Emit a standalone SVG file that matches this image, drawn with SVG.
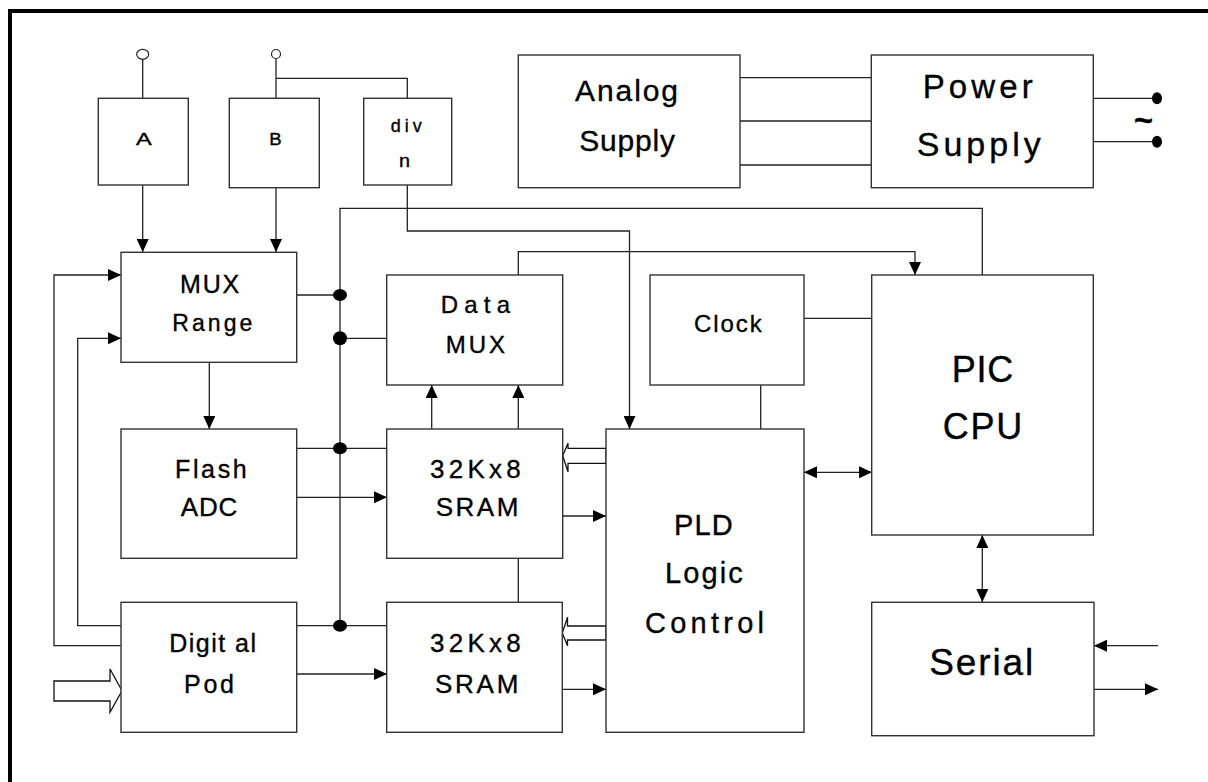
<svg xmlns="http://www.w3.org/2000/svg" width="1208" height="782" viewBox="0 0 1208 782">
<style>
.box{fill:#fff;stroke:#333;stroke-width:1.4}
.ln{fill:none;stroke:#222;stroke-width:1.3}
.arr{marker-end:url(#ah)}
.dbl{marker-start:url(#ah);marker-end:url(#ah)}
.dot{fill:#000}
.wide{fill:#fff;stroke:#111;stroke-width:1.3}
text{font-family:"Liberation Sans",Arial,sans-serif;fill:#000;stroke:#000;stroke-width:0.35}
</style>
<defs>
<marker id="ah" markerUnits="userSpaceOnUse" markerWidth="13" markerHeight="12" refX="13" refY="6" orient="auto-start-reverse" viewBox="0 0 13 12">
<path d="M0,0 L13,6 L0,12 z" fill="#000"/>
</marker>
</defs>
<rect width="1208" height="782" fill="#fff"/>
<rect x="8" y="9" width="1200" height="4" fill="#000"/>
<rect x="8" y="9" width="4" height="773" fill="#000"/>

<g id="connectors">
<ellipse cx="142.7" cy="54.3" rx="6" ry="5" fill="none" stroke="#222" stroke-width="1.2"/>
<circle cx="276" cy="54" r="4.5" fill="none" stroke="#222" stroke-width="1.2"/>
<line class="ln" x1="142.7" y1="59.3" x2="142.7" y2="98"/>
<line class="ln" x1="276" y1="58.5" x2="276" y2="98"/>
<polyline class="ln" points="276,78.3 407.3,78.3 407.3,98"/>
<line class="ln arr" x1="142.7" y1="185" x2="142.7" y2="252"/>
<line class="ln arr" x1="276" y1="188" x2="276" y2="252"/>
<polyline class="ln arr" points="407.3,185 407.3,231 629.5,231 629.5,429"/>
<polyline class="ln" points="340,626 340,208.3 982.3,208.3 982.3,275"/>
<polyline class="ln arr" points="518.3,275 518.3,251.7 915,251.7 915,275"/>
<line class="ln" x1="737" y1="77.7" x2="871" y2="77.7"/>
<line class="ln" x1="737" y1="121" x2="871" y2="121"/>
<line class="ln" x1="737" y1="165" x2="871" y2="165"/>
<line class="ln" x1="1090" y1="98.3" x2="1157" y2="98.3"/>
<line class="ln" x1="1090" y1="141.7" x2="1157" y2="141.7"/>
<ellipse class="dot" cx="1157" cy="98.3" rx="5" ry="6"/>
<ellipse class="dot" cx="1157" cy="141.7" rx="5" ry="6"/>
<line class="ln" x1="297" y1="295" x2="340" y2="295"/>
<line class="ln" x1="340" y1="338.3" x2="387" y2="338.3"/>
<polyline class="ln arr" points="121,645.7 54,645.7 54,275 121,275"/>
<polyline class="ln arr" points="121,625.7 77.7,625.7 77.7,338.3 121,338.3"/>
<line class="ln arr" x1="209.3" y1="362" x2="209.3" y2="429"/>
<line class="ln" x1="297" y1="448.3" x2="387" y2="448.3"/>
<line class="ln arr" x1="297" y1="497.3" x2="387" y2="497.3"/>
<line class="ln arr" x1="431.7" y1="429" x2="431.7" y2="385"/>
<line class="ln arr" x1="518.3" y1="429" x2="518.3" y2="385"/>
<line class="ln arr" x1="563" y1="516" x2="606" y2="516"/>
<line class="ln" x1="804" y1="318.3" x2="872" y2="318.3"/>
<line class="ln" x1="760.7" y1="385" x2="760.7" y2="429"/>
<line class="ln dbl" x1="804" y1="472.3" x2="872" y2="472.3"/>
<line class="ln dbl" x1="982.3" y1="535" x2="982.3" y2="602"/>
<line class="ln" x1="518.3" y1="558" x2="518.3" y2="602"/>
<line class="ln" x1="297" y1="625.7" x2="387" y2="625.7"/>
<line class="ln arr" x1="297" y1="674" x2="387" y2="674"/>
<line class="ln arr" x1="563" y1="689.3" x2="606" y2="689.3"/>
<line class="ln arr" x1="1158" y1="645.7" x2="1094" y2="645.7"/>
<line class="ln arr" x1="1094" y1="689.3" x2="1158" y2="689.3"/>
<polygon class="wide" points="606,448.3 568,448.3 568,443.3 562.7,455.8 568,471.7 568,463.3 606,463.3"/>
<polygon class="wide" points="606,626 567.5,626 567.5,617.3 562.3,633 567.5,645.7 567.5,640 606,640"/>
<polygon class="wide" points="54,681 110,681 110,669 122,690.7 110,712.3 110,701 54,701"/>
<ellipse class="dot" cx="340" cy="295" rx="7" ry="6"/>
<ellipse class="dot" cx="340" cy="338.3" rx="7" ry="7"/>
<ellipse class="dot" cx="340" cy="448.3" rx="7" ry="6"/>
<ellipse class="dot" cx="340" cy="625.7" rx="7" ry="6"/>
<text x="1134" y="131" font-size="32" font-weight="bold" textLength="19" lengthAdjust="spacingAndGlyphs">~</text>
</g>

<g id="node-a">
<rect class="box" x="98.3" y="98.3" width="90" height="86.7"/>
<text x="136" y="145" font-size="17" textLength="15.7" lengthAdjust="spacingAndGlyphs">A</text>
</g>
<g id="node-b">
<rect class="box" x="229.3" y="98.3" width="90" height="89.4"/>
<text x="269.3" y="145" font-size="17" textLength="12.4" lengthAdjust="spacingAndGlyphs">B</text>
</g>
<g id="node-divn">
<rect class="box" x="363.7" y="98.3" width="88" height="86.7"/>
<text x="390.7" y="131.7" font-size="18" textLength="31">div</text>
<text x="399" y="166.7" font-size="18" textLength="11" lengthAdjust="spacingAndGlyphs">n</text>
</g>
<g id="node-analog">
<rect class="box" x="518.3" y="55" width="221.7" height="132.7"/>
<text x="575" y="100.7" font-size="30" textLength="103">Analog</text>
<text x="579.3" y="150.7" font-size="30" textLength="95.7">Supply</text>
</g>
<g id="node-power">
<rect class="box" x="871.3" y="55" width="222" height="132.7"/>
<text x="922.7" y="98.3" font-size="33" textLength="110">Power</text>
<text x="916.7" y="155.5" font-size="34" textLength="124">Supply</text>
</g>
<g id="node-muxrange">
<rect class="box" x="121" y="252.3" width="175.7" height="110"/>
<text x="180" y="293.3" font-size="25" textLength="59.3">MUX</text>
<text x="172.3" y="330.7" font-size="23" textLength="80">Range</text>
</g>
<g id="node-datamux">
<rect class="box" x="386.7" y="275" width="176" height="110"/>
<text x="440.7" y="313.3" font-size="24" textLength="69.3">Data</text>
<text x="445.7" y="353.3" font-size="24" textLength="59.3">MUX</text>
</g>
<g id="node-clock">
<rect class="box" x="650" y="275" width="154" height="110"/>
<text x="694" y="332.3" font-size="24" textLength="67.7">Clock</text>
</g>
<g id="node-pic">
<rect class="box" x="871.7" y="275" width="221.6" height="260"/>
<text x="951.7" y="381.7" font-size="36" textLength="61.6">PIC</text>
<text x="942.7" y="439.3" font-size="36" textLength="79.6">CPU</text>
</g>
<g id="node-flash">
<rect class="box" x="121" y="429" width="175.7" height="129.3"/>
<text x="175" y="478" font-size="25" textLength="71.7">Flash</text>
<text x="180.7" y="516" font-size="26" textLength="56.6">ADC</text>
</g>
<g id="node-sram1">
<rect class="box" x="386.7" y="429" width="176" height="129.3"/>
<text x="430" y="478.3" font-size="26" textLength="90.7">32Kx8</text>
<text x="435.7" y="516" font-size="26" textLength="82.6">SRAM</text>
</g>
<g id="node-pld">
<rect class="box" x="606" y="429" width="198" height="303.3"/>
<text x="674" y="535" font-size="29" textLength="58.7">PLD</text>
<text x="665" y="583.3" font-size="29" textLength="77.7">Logic</text>
<text x="645" y="633.3" font-size="29" textLength="119">Control</text>
</g>
<g id="node-digitalpod">
<rect class="box" x="121" y="602.3" width="175.7" height="130"/>
<text x="169.3" y="651.7" font-size="25" textLength="86.7">Digit al</text>
<text x="184" y="692.7" font-size="25" textLength="50">Pod</text>
</g>
<g id="node-sram2">
<rect class="box" x="386.7" y="602.3" width="175.6" height="130"/>
<text x="430" y="651.7" font-size="26" textLength="90.7">32Kx8</text>
<text x="435" y="692.7" font-size="26" textLength="83.3">SRAM</text>
</g>
<g id="node-serial">
<rect class="box" x="871.7" y="602.3" width="222.3" height="133.4"/>
<text x="929.3" y="675" font-size="37" textLength="104">Serial</text>
</g>
</svg>
